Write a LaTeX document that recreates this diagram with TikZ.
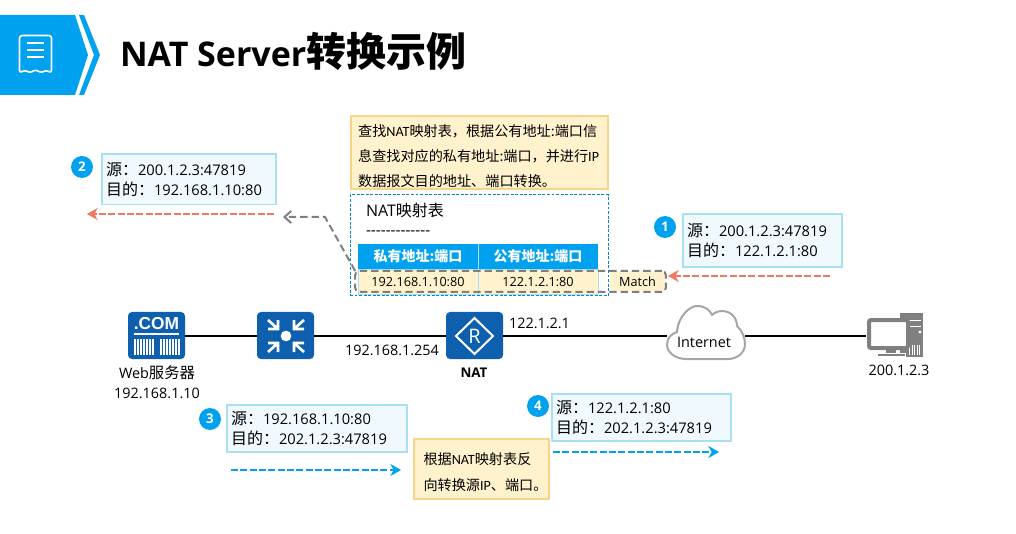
\documentclass[tikz,border=0pt]{standalone}
\usepackage{fontspec}
\setmainfont{Open Sans}
\newfontfamily\cjk{Noto Sans CJK SC}
\newfontfamily\calib{Carlito}
\newfontfamily\arialbd{Liberation Sans}[BoldFont={Liberation Sans Bold}]
\usepackage{xcolor}
\usepackage{tikz}
\usetikzlibrary{arrows.meta,positioning,calc}

\definecolor{skyblue}{HTML}{00A2F0}
\definecolor{iconblue}{HTML}{0F5FAF}
\definecolor{addrfill}{HTML}{F0FAFE}
\definecolor{addrline}{HTML}{A8DFF2}
\definecolor{notefill}{HTML}{FFF2CC}
\definecolor{noteline}{HTML}{FAD38A}
\definecolor{redarrow}{HTML}{EE7B5F}
\definecolor{greyline}{HTML}{7F7F7F}
\newcommand{\src}{{\cjk\fontsize{12}{12}\selectfont 源：}}
\newcommand{\dst}{{\cjk\fontsize{12}{12}\selectfont 目的：}}

\begin{document}
\begin{tikzpicture}[x=0.75pt, y=-0.75pt,
  outer sep=0pt,
  addr/.style={draw=addrline, line width=1pt, fill=addrfill, anchor=north west, inner xsep=3pt, inner ysep=0pt,
    align=left, font=\fontsize{11}{14.8}\selectfont},
  note/.style={draw=noteline, line width=1pt, fill=notefill, anchor=north west, inner xsep=5pt, inner ysep=0pt,
    align=left, font=\cjk\fontsize{10.6}{18.75}\selectfont},
  badge/.style={circle, fill=skyblue, text=white, minimum size=16.5pt, inner sep=0pt, font=\bfseries\fontsize{10}{10}\selectfont},
  icon/.style={fill=iconblue, rounded corners=3pt, minimum width=42.75pt, minimum height=35.25pt},
  hdr/.style={fill=skyblue, text=white, minimum width=90pt, minimum height=18.75pt, inner sep=0pt, font=\cjk\bfseries\fontsize{10.5}{10.5}\selectfont},
  cell/.style={draw=addrline, line width=.6pt, fill=notefill, minimum width=90pt, minimum height=18.75pt, inner sep=0pt, font=\fontsize{9.5}{9.5}\selectfont},
  lbl/.style={font=\fontsize{10.8}{13}\selectfont, inner sep=0pt, align=center},
  link/.style={line width=1.5pt, black},
  flowred/.style={-{Stealth[length=8pt,width=9pt,inset=2.5pt]}, line width=2.2pt, redarrow, dash pattern=on 5.2pt off 1.8pt},
  flowblue/.style={-{Stealth[length=8pt,width=9pt,inset=2.5pt]}, line width=2.2pt, skyblue, dash pattern=on 5.2pt off 1.8pt},
  flowgrey/.style={-{Straight Barb[length=5pt,width=9pt]}, line width=1.5pt, greyline, dash pattern=on 5.5pt off 3pt},
]
\useasboundingbox (0,0) rectangle (1016,534);

% banner
\fill[skyblue] (0,15) -- (75,15) -- (88,55) -- (75,95) -- (0,95) -- cycle;
\fill[skyblue] (79,15) -- (84,15) -- (100,55) -- (84,95) -- (79,95) -- (94,55) -- cycle;
\draw[white, line width=1.2pt, line join=round, rounded corners=2pt]
  (19.5,35.5) -- (51.5,35.5) -- (51.5,73) -- (46,70) -- (41,73) -- (35.5,69.5) -- (30,73) -- (25,70) -- (19.5,73) -- cycle;
\foreach \ly in {43,50,57} \draw[white, line width=1.2pt] (27,\ly) -- (44,\ly);
\node[anchor=base west, inner sep=0pt, font=\bfseries\fontsize{25.5}{27}\selectfont] (title) at (120,66.5)
  {NAT Server{\cjk\bfseries\fontsize{30}{30}\selectfont 转换示例}};

% lookup note and table
\node[note, minimum width=192.75pt, minimum height=54.75pt, text width=182pt] (lookup) at (351,116)
  {\rule{0pt}{14pt}查找{\calib NAT}映射表，根据公有地址:端口信\\息查找对应的私有地址:端口，并进行{\calib IP}\\数据报文目的地址、端口转换。};
\node[hdr] (hpriv) at (418,256.5) {私有地址:端口};
\node[hdr, right=0pt of hpriv] (hpub) {公有地址:端口};
\draw[addrline, line width=.6pt] (hpriv.north east) -- (hpriv.south east);
\node[cell, below=0pt of hpriv] (rpriv) {192.168.1.10:80};
\node[cell, right=0pt of rpriv] (rpub) {122.1.2.1:80};
\node[cell, draw=none, minimum width=41.25pt, minimum height=15pt] (match) at (637.5,281.5) {Match};
\node[draw=skyblue!85!black, line width=.75pt, dash pattern=on 2.2pt off 1.2pt, minimum width=193.5pt, minimum height=75.75pt] (nattab) at (479,245.5) {};
\node[anchor=base west, inner sep=0pt, font=\fontsize{12}{12}\selectfont] (tabname) at (366,217) {NAT{\cjk 映射表}};
\node[anchor=base west, inner sep=0pt, font=\fontsize{11.5}{11.5}\selectfont] (tabrule) at (366,236) {-{}-{}-{}-{}-{}-{}-{}-{}-{}-{}-{}-{}-};
\node[draw=greyline, line width=1.5pt, dash pattern=on 5.5pt off 3pt, rounded corners=3pt, minimum width=233pt, minimum height=15.75pt] (bar) at (510.5,281.5) {};

% address boxes
\node[addr, minimum width=130.5pt, minimum height=38pt, text width=124.5pt] (b2) at (102,154) {\src 200.1.2.3:47819\\\dst 192.168.1.10:80};
\node[addr, minimum width=119.25pt, minimum height=39.75pt, text width=113.25pt] (b1) at (683,214) {\src 200.1.2.3:47819\\\dst 122.1.2.1:80};
\node[addr, minimum width=135pt, minimum height=35.25pt, text width=129pt] (b3) at (227,405) {\src 192.168.1.10:80\\\dst 202.1.2.3:47819};
\node[addr, minimum width=134.25pt, minimum height=35.25pt, text width=128.25pt] (b4) at (552,394) {\src 122.1.2.1:80\\\dst 202.1.2.3:47819};
\node[badge] (n2) at (82,167) {2};
\node[badge] (n1) at (665,227) {1};
\node[badge] (n3) at (210,419) {3};
\node[badge] (n4) at (538,406) {4};
\node[note, inner xsep=6.75pt, minimum width=101.25pt, minimum height=45pt, text width=87pt, font=\cjk\fontsize{10.6}{19.5}\selectfont] (reverse) at (414,439)
  {\rule{0pt}{14pt}根据{\calib NAT}映射表反\\向转换源{\calib IP}、端口。};

% flows
\coordinate (r1s) at (830,276);
\coordinate (r1e) at (668,276);
\coordinate (r2s) at (274,214);
\coordinate (r2e) at (87,214);
\coordinate (g1) at (325,217);
\coordinate (g2) at (283,217);
\coordinate (b1s) at (231,470);
\coordinate (b1e) at (401,470);
\coordinate (b2s) at (553,452);
\coordinate (b2e) at (719,452);
\draw[flowred] (r1s) -- (r1e);
\draw[flowred] (r2s) -- (r2e);
\draw[flowgrey] (bar.north west) -- (g1) -- (g2);
\draw[flowblue] (b1s) -- (b1e);
\draw[flowblue] (b2s) -- (b2e);

% network
\node[icon] (web) at (156.5,335.5) {};
\node[icon] (sw) at (285.5,335.5) {};
\node[icon] (nat) at (474.5,335.5) {};
\node[minimum width=58.5pt, minimum height=30pt, inner sep=0pt] (inet) at (706,335.5) {};
\node[minimum width=44.25pt, minimum height=34.5pt, inner sep=0pt] (pc) at (895.5,335.5) {};
\draw[link] (web) -- (sw);
\draw[link] (sw) -- (nat);
\draw[link] (nat) -- (inet);
\draw[link] (inet) -- (pc);

% web server glyph
\node[inner sep=0pt, text=white, font=\arialbd\bfseries\fontsize{13}{13}\selectfont] (comtxt) at (156.5,323.5) {.COM};
\draw[white, line width=.8pt] (134,334) -- (179,334);
\foreach \bx in {135,138,...,153,161,164,...,179} \draw[white, line width=.9pt] (\bx,339) -- (\bx,355);

% switch glyph
\fill[white] (286,336) circle (4pt);
\foreach \sx/\sy in {-1/-1,1/-1,-1/1,1/1}
  \draw[white, line width=2pt, miter limit=4]
    (286+\sx*18,336+\sy*16) -- (286+\sx*8,336+\sy*7)
    (286+\sx*18,336+\sy*7) -- (286+\sx*8,336+\sy*7) -- (286+\sx*8,336+\sy*16);

% router glyph
\draw[white, line width=1.5pt, miter limit=4] (474.5,318) -- (493,336) -- (474.5,354) -- (456,336) -- cycle;
\node[inner sep=0pt, text=white, font=\fontsize{15}{15}\selectfont] (rtxt) at (474.5,336) {R};

% cloud
\draw[fill=white, draw=black!35, line width=1.5pt]
  (677,332) .. controls (678,316) and (690,306) .. (697,306) .. controls (705,306) and (710,310) .. (712,315)
  .. controls (715,312) and (719,311) .. (722,311) .. controls (731,311) and (737,318) .. (737,326)
  .. controls (742,330) and (745,338) .. (745,344) .. controls (745,353) and (737,359) .. (728,359)
  -- (686,359) .. controls (675,359) and (667,352) .. (667,345) .. controls (667,338) and (671,334) .. (677,332) -- cycle;
\node[lbl] (inettxt) at (704,342) {Internet};

% host glyph
\fill[black!50] (900,313) rectangle (923,357);
\fill[white] (907,320) rectangle (921,321);
\fill[white] (907,326) rectangle (921,327);
\fill[white] (920,332) circle (1.2pt);
\foreach \vx in {909,911.5,...,919} \fill[white] (\vx,345) rectangle (\vx+1,355);
\fill[black!50, draw=white, line width=.5pt] (877,353) rectangle (905,356.5);
\fill[black!50] (886,349) rectangle (896,353);
\draw[black!50, fill=white, line width=3pt, rounded corners=1.5pt] (869,320) rectangle (908,348);

% labels
\node[lbl] (webname) at (157,373) {Web{\cjk\fontsize{11.5}{13}\selectfont 服务器}};
\node[lbl] (webip) at (157,393) {192.168.1.10};
\node[lbl] (swip) at (392,350) {192.168.1.254};
\node[lbl] (natip) at (539.5,323) {122.1.2.1};
\node[lbl, font=\bfseries\fontsize{10}{13}\selectfont] (natname) at (474,373) {NAT};
\node[lbl] (pcip) at (899,370) {200.1.2.3};
\end{tikzpicture}
\end{document}
